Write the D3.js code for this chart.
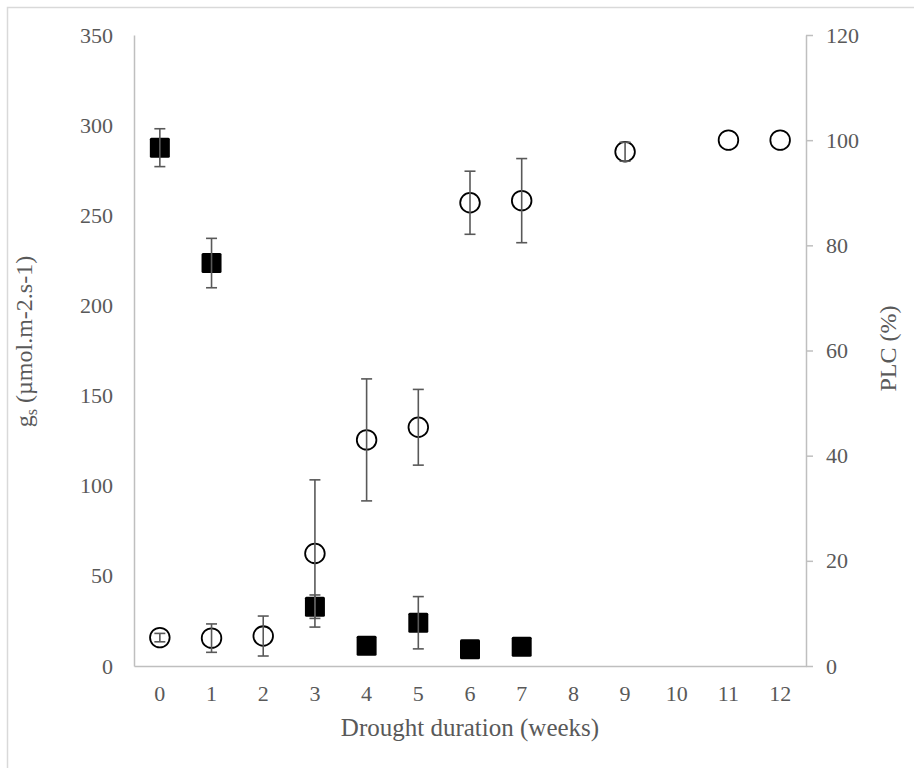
<!DOCTYPE html>
<html>
<head>
<meta charset="utf-8">
<script src="https://cdn.jsdelivr.net/npm/d3@7"></script>
<style>
  html, body { margin: 0; padding: 0; background: #fff; }
  svg { display: block; }
  text { font-family: "Liberation Serif", "Times New Roman", serif; fill: #595959; }
</style>
</head>
<body>
<script>
// ---- Data ----
const weeks = ["0","1","2","3","4","5","6","7","8","9","10","11","12"];
// Stomatal conductance gs (left axis)
const gsWeeks = ["0","1","3","4","5","6","7"];
const gsValues = [287.5, 223.5, 32.9, 11.3, 24.0, 9.3, 10.7];
const gsErrors = [10.5, 13.7, 6.5, 0, 14.5, 0, 0];
// PLC (right axis)
const plcWeeks = ["0","1","2","3","4","5","6","7","9","11","12"];
const plcValues = [5.4, 5.3, 5.7, 21.4, 43.0, 45.4, 88.1, 88.5, 97.8, 100, 100];
const plcErrors = [0.8, 2.7, 3.8, 14.0, 11.6, 7.2, 6.0, 8.0, 1.8, 0, 0];
const leftTicks = [0, 50, 100, 150, 200, 250, 300, 350];
const rightTicks = [0, 20, 40, 60, 80, 100, 120];

const W = 914, H = 768;
const margin = { left: 134, right: 914 - 806, top: 35, bottom: 768 - 666 };
const x0 = margin.left, x1 = W - margin.right, yTop = margin.top, yBot = H - margin.bottom;
const tickFont = "22px", titleFont = "25px";

const svg = d3.select("body").append("svg").attr("width", W).attr("height", H);

// outer frame (only top and left edges visible)
svg.append("rect").attr("x", 7.5).attr("y", 7.5).attr("width", 1200).attr("height", 1200)
  .attr("fill", "none").attr("stroke", "#d9d9d9").attr("stroke-width", 1.5);

const x = d3.scaleBand().domain(weeks).range([x0, x1]);
const yL = d3.scaleLinear().domain([0, 350]).range([yBot, yTop]);
const yR = d3.scaleLinear().domain([0, 120]).range([yBot, yTop]);
const axisColor = "#bfbfbf";

function styleText(g) {
  g.attr("font-family", null).attr("font-size", null);
  g.selectAll("text").style("font-size", tickFont).attr("fill", "#595959");
}

// Left axis
const gL = svg.append("g").attr("transform", `translate(${x0},0)`)
  .call(d3.axisLeft(yL).tickValues(leftTicks).tickSize(0).tickPadding(21));
gL.select(".domain").attr("stroke", axisColor).attr("stroke-width", 1.5);
styleText(gL);

// Right axis
const gR = svg.append("g").attr("transform", `translate(${x1},0)`)
  .call(d3.axisRight(yR).tickValues(rightTicks).tickSize(7).tickPadding(13).tickSizeOuter(0));
gR.select(".domain").attr("stroke", axisColor).attr("stroke-width", 1.5);
gR.selectAll(".tick line").attr("stroke", axisColor).attr("stroke-width", 1.5);
styleText(gR);

// Bottom axis
const gB = svg.append("g").attr("transform", `translate(0,${yBot})`)
  .call(d3.axisBottom(x).tickSize(0).tickPadding(19));
gB.select(".domain").attr("stroke", axisColor).attr("stroke-width", 1.5);
styleText(gB);

// Axis titles
svg.append("text").attr("x", (x0 + x1) / 2).attr("y", 736).attr("text-anchor", "middle")
  .style("font-size", titleFont).text("Drought duration (weeks)");

const lt = svg.append("text").attr("transform", `translate(32,${(yTop + yBot) / 2 - 9}) rotate(-90)`)
  .attr("text-anchor", "middle").style("font-size", "24px");
lt.append("tspan").text("g");
lt.append("tspan").attr("dy", 5).style("font-size", "16px").text("s");
lt.append("tspan").attr("dy", -5).text(" (µmol.m-2.s-1)");

svg.append("text").attr("transform", `translate(896,${(yTop + yBot) / 2 - 2}) rotate(-90)`)
  .attr("text-anchor", "middle").style("font-size", "24px").text("PLC (%)");

const cx = w => x(w) + x.bandwidth() / 2;

const gsData = gsWeeks.map((w, i) => ({ w, v: gsValues[i], e: gsErrors[i] }));
const plcData = plcWeeks.map((w, i) => ({ w, v: plcValues[i], e: plcErrors[i] }));

// markers: squares (gs)
svg.append("g").selectAll("rect").data(gsData).join("rect")
  .attr("x", d => cx(d.w) - 10).attr("y", d => yL(d.v) - 10)
  .attr("width", 20).attr("height", 20).attr("rx", 1.5)
  .attr("fill", "#000");

// markers: circles (PLC)
svg.append("g").selectAll("circle").data(plcData).join("circle")
  .attr("cx", d => cx(d.w)).attr("cy", d => yR(d.v)).attr("r", 9.8)
  .attr("fill", "#fff").attr("stroke", "#000").attr("stroke-width", 1.8);

// error bars (drawn on top)
function errorBars(data, y) {
  const g = svg.append("g").attr("stroke", "#595959").attr("stroke-width", 1.6).attr("fill", "none");
  const d2 = data.filter(d => d.e > 0);
  g.selectAll("line.v").data(d2).join("line").attr("class", "v")
    .attr("x1", d => cx(d.w)).attr("x2", d => cx(d.w))
    .attr("y1", d => y(d.v + d.e)).attr("y2", d => y(d.v - d.e));
  g.selectAll("line.t").data(d2).join("line").attr("class", "t")
    .attr("x1", d => cx(d.w) - 5.5).attr("x2", d => cx(d.w) + 5.5)
    .attr("y1", d => y(d.v + d.e)).attr("y2", d => y(d.v + d.e));
  g.selectAll("line.b").data(d2).join("line").attr("class", "b")
    .attr("x1", d => cx(d.w) - 5.5).attr("x2", d => cx(d.w) + 5.5)
    .attr("y1", d => y(d.v - d.e)).attr("y2", d => y(d.v - d.e));
}
errorBars(gsData, yL);
errorBars(plcData, yR);
</script>
</body>
</html>
